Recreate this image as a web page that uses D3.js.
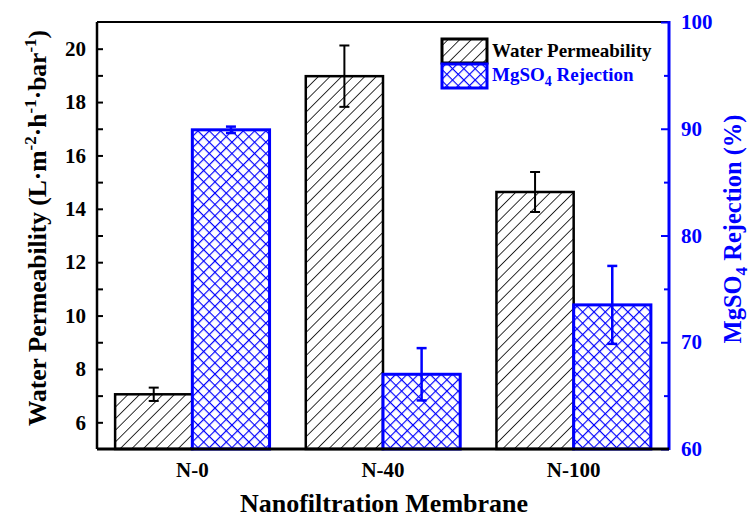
<!DOCTYPE html>
<html>
<head>
<meta charset="utf-8">
<script src="https://cdn.jsdelivr.net/npm/d3@7"></script>
</head>
<body style="margin:0">
<svg id="chart" width="750" height="517" font-family="Liberation Serif" font-weight="bold"></svg>
<script>
// ---- data ----
const categories = ["N-0", "N-40", "N-100"];
const permeability = [7.05, 18.97, 14.63];
const permeabilityErr = [0.25, 1.15, 0.75];
const rejection = [89.9, 67.0, 73.5];
const rejectionErr = [0.3, 2.45, 3.65];
const leftTicks = [6, 8, 10, 12, 14, 16, 18, 20];
const leftMinor = [7, 9, 11, 13, 15, 17, 19];
const rightTicks = [60, 70, 80, 90, 100];
const rightMinor = [65, 75, 85, 95];
const seriesNames = ["Water Permeability", "MgSO4 Rejection"];

// ---- layout ----
const FONT = "Liberation Serif";
const L = 97, R = 669, T = 22, B = 449;
const BLUE = "#0000ff";
const svg = d3.select("#chart");

const defs = svg.append("defs");
const hatch = defs.append("pattern").attr("id", "hatch").attr("patternUnits", "userSpaceOnUse")
  .attr("width", 8.2).attr("height", 8.2).attr("patternTransform", "rotate(45)");
hatch.append("rect").attr("width", 8.2).attr("height", 8.2).attr("fill", "#fff");
hatch.append("line").attr("x1", 0).attr("y1", -1).attr("x2", 0).attr("y2", 10)
  .attr("stroke", "#000").attr("stroke-width", 1.6);

const cross = defs.append("pattern").attr("id", "cross").attr("patternUnits", "userSpaceOnUse")
  .attr("width", 8).attr("height", 8).attr("patternTransform", "rotate(45)");
cross.append("rect").attr("width", 8).attr("height", 8).attr("fill", "#fff");
cross.append("line").attr("x1", 0).attr("y1", -1).attr("x2", 0).attr("y2", 9)
  .attr("stroke", BLUE).attr("stroke-width", 2.3);
cross.append("line").attr("x1", -1).attr("y1", 0).attr("x2", 9).attr("y2", 0)
  .attr("stroke", BLUE).attr("stroke-width", 2.3);

const x = d3.scaleBand().domain(categories).range([L, R]).paddingInner(0.19).paddingOuter(0.095);
const xs = d3.scaleBand().domain([0, 1]).range([0, x.bandwidth()]);
const yL = d3.scaleLinear().domain([5, 21]).range([B, T]);
const yR = d3.scaleLinear().domain([60, 100]).range([B, T]);

// ---- bars ----
const g = svg.append("g");
categories.forEach((c, i) => {
  const x0 = x(c);
  g.append("rect")
    .attr("x", x0 + xs(0)).attr("y", yL(permeability[i]))
    .attr("width", xs.bandwidth()).attr("height", yL(5) - yL(permeability[i]))
    .attr("fill", "url(#hatch)").attr("stroke", "#000").attr("stroke-width", 2.5);
  g.append("rect")
    .attr("x", x0 + xs(1)).attr("y", yR(rejection[i]))
    .attr("width", xs.bandwidth()).attr("height", yR(60) - yR(rejection[i]))
    .attr("fill", "url(#cross)").attr("stroke", BLUE).attr("stroke-width", 3);
});

// ---- error bars ----
function errBar(cx, yTop, yBot, color, w) {
  g.append("line").attr("x1", cx).attr("x2", cx).attr("y1", yTop).attr("y2", yBot)
    .attr("stroke", color).attr("stroke-width", w);
  [yTop, yBot].forEach(yy => g.append("line").attr("x1", cx - 5).attr("x2", cx + 5)
    .attr("y1", yy).attr("y2", yy).attr("stroke", color).attr("stroke-width", w));
}
categories.forEach((c, i) => {
  const x0 = x(c);
  errBar(x0 + xs(0) + xs.bandwidth() / 2,
    yL(permeability[i] + permeabilityErr[i]), yL(permeability[i] - permeabilityErr[i]), "#000", 2);
  errBar(x0 + xs(1) + xs.bandwidth() / 2,
    yR(rejection[i] + rejectionErr[i]), yR(rejection[i] - rejectionErr[i]), BLUE, 2.5);
});

// ---- frame ----
svg.append("line").attr("x1", L).attr("x2", R).attr("y1", T).attr("y2", T)
  .attr("stroke", "#000").attr("stroke-width", 2);
svg.append("line").attr("x1", L).attr("x2", L).attr("y1", T).attr("y2", B)
  .attr("stroke", "#000").attr("stroke-width", 2.5);
svg.append("line").attr("x1", R).attr("x2", R).attr("y1", T - 1).attr("y2", B + 1)
  .attr("stroke", BLUE).attr("stroke-width", 3);

function styleText(sel, color, size) {
  sel.attr("font-size", size).attr("fill", color)
    .attr("font-family", FONT).attr("font-weight", "bold");
}

// left axis
const gl = svg.append("g").attr("transform", `translate(${L},0)`);
gl.call(d3.axisLeft(yL).tickValues(leftTicks).tickSize(-6).tickPadding(11).tickFormat(d3.format("d")));
gl.append("g").call(d3.axisLeft(yL).tickValues(leftMinor).tickSize(-6).tickFormat(""));
gl.selectAll(".domain").remove();
gl.selectAll("g").attr("font-family", FONT);
gl.attr("font-family", FONT);
gl.selectAll(".tick line").attr("stroke", "#000").attr("stroke-width", 2);
styleText(gl.selectAll(".tick text"), "#000", 21);

// right axis
const gr = svg.append("g").attr("transform", `translate(${R},0)`);
gr.call(d3.axisRight(yR).tickValues(rightTicks).tickSize(-8).tickPadding(12).tickFormat(d3.format("d")));
gr.append("g").call(d3.axisRight(yR).tickValues(rightMinor).tickSize(-5).tickFormat(""));
gr.selectAll(".domain").remove();
gr.attr("font-family", FONT);
gr.selectAll("g").attr("font-family", FONT);
gr.selectAll(".tick line").attr("stroke", BLUE).attr("stroke-width", 2);
styleText(gr.selectAll(".tick text"), BLUE, 21);

// bottom axis
const gb = svg.append("g").attr("transform", `translate(0,${B})`);
gb.call(d3.axisBottom(x).tickSize(0).tickPadding(13));
gb.attr("font-family", FONT);
gb.select(".domain").attr("stroke", "#000").attr("stroke-width", 3)
  .attr("d", `M${L},0H${R}`);
styleText(gb.selectAll(".tick text"), "#000", 21);

// ---- titles ----
const SS = 17;
const xt = svg.append("text").attr("x", 384).attr("y", 512).attr("text-anchor", "middle")
  .text("Nanofiltration Membrane");
styleText(xt, "#000", 26);

const lt = svg.append("text").attr("transform", "translate(46,228) rotate(-90)")
  .attr("text-anchor", "middle");
styleText(lt, "#000", 25.5);
lt.append("tspan").text("Water Permeability (L·m");
lt.append("tspan").attr("dy", -10).attr("font-size", SS).text("-2");
lt.append("tspan").attr("dy", 10).text("·h");
lt.append("tspan").attr("dy", -10).attr("font-size", SS).text("-1");
lt.append("tspan").attr("dy", 10).text("·bar");
lt.append("tspan").attr("dy", -10).attr("font-size", SS).text("-1");
lt.append("tspan").attr("dy", 10).text(")");

const rt = svg.append("text").attr("transform", "translate(741,229) rotate(-90)")
  .attr("text-anchor", "middle");
styleText(rt, BLUE, 24.5);
rt.append("tspan").text("MgSO");
rt.append("tspan").attr("dy", 6).attr("font-size", SS).text("4");
rt.append("tspan").attr("dy", -6).text(" Rejection (%)");

// ---- legend ----
const lg = svg.append("g");
lg.append("rect").attr("x", 442).attr("y", 39).attr("width", 45).attr("height", 24)
  .attr("fill", "url(#hatch)").attr("stroke", "#000").attr("stroke-width", 3);
lg.append("rect").attr("x", 442).attr("y", 64).attr("width", 45).attr("height", 24)
  .attr("fill", "url(#cross)").attr("stroke", BLUE).attr("stroke-width", 3);
const l1 = lg.append("text").attr("x", 492).attr("y", 57).text(seriesNames[0]);
styleText(l1, "#000", 19);
const l2 = lg.append("text").attr("x", 492).attr("y", 81);
styleText(l2, BLUE, 19);
l2.append("tspan").text("MgSO");
l2.append("tspan").attr("dy", 5).attr("font-size", 14).text("4");
l2.append("tspan").attr("dy", -5).text(" Rejection");
</script>
</body>
</html>
